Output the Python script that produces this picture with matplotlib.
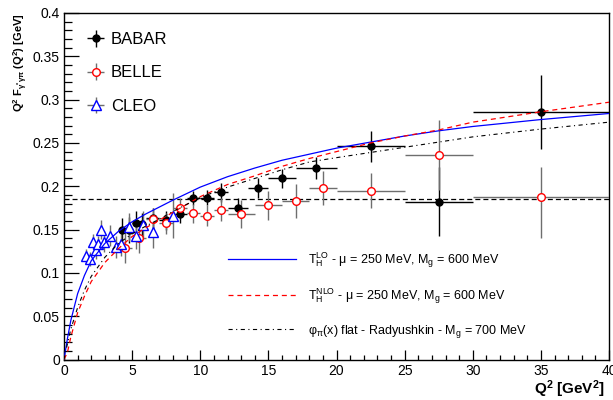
import matplotlib
matplotlib.use("Agg")
import matplotlib.pyplot as plt
from matplotlib.ticker import MultipleLocator, FixedLocator, FixedFormatter

plt.rcParams['font.family'] = ['Liberation Sans', 'DejaVu Sans']
plt.rcParams['mathtext.fontset'] = 'custom'
plt.rcParams['mathtext.rm'] = 'Liberation Sans'
plt.rcParams['mathtext.it'] = 'Liberation Sans:italic'
plt.rcParams['mathtext.bf'] = 'Liberation Sans:bold'
plt.rcParams['mathtext.default'] = 'regular'
plt.rcParams['lines.scale_dashes'] = False

# BABAR
babar_q2 = [4.25, 4.75, 5.25, 5.75, 6.5, 7.5, 8.5, 9.5, 10.5, 11.5, 12.75, 14.25, 16.0, 18.5, 22.5, 27.5, 35.0]
babar_xerr = [0.25, 0.25, 0.25, 0.25, 0.5, 0.5, 0.5, 0.5, 0.5, 0.5, 0.75, 0.75, 1.0, 1.5, 2.5, 2.5, 5.0]
babar_f = [0.150, 0.149, 0.158, 0.156, 0.163, 0.161, 0.168, 0.186, 0.187, 0.193, 0.175, 0.198, 0.209, 0.221, 0.246, 0.182, 0.286]
babar_err = [0.013, 0.015, 0.014, 0.013, 0.012, 0.011, 0.010, 0.008, 0.009, 0.011, 0.011, 0.012, 0.011, 0.013, 0.018, 0.040, 0.043]

# BELLE
belle_q2 = [4.5, 5.5, 6.5, 7.5, 8.5, 9.5, 10.5, 11.5, 13.0, 15.0, 17.0, 19.0, 22.5, 27.5, 35.0]
belle_xerr = [0.5, 0.5, 0.5, 0.5, 0.5, 0.5, 0.5, 0.5, 1.0, 1.0, 1.0, 1.0, 2.5, 2.5, 5.0]
belle_f = [0.129, 0.140, 0.162, 0.157, 0.175, 0.169, 0.166, 0.173, 0.168, 0.178, 0.183, 0.198, 0.195, 0.236, 0.188]
belle_err_lo = [0.018, 0.017, 0.013, 0.012, 0.011, 0.011, 0.012, 0.013, 0.016, 0.017, 0.020, 0.020, 0.020, 0.040, 0.048]
belle_err_hi = [0.018, 0.017, 0.013, 0.012, 0.011, 0.011, 0.012, 0.013, 0.016, 0.017, 0.020, 0.020, 0.020, 0.040, 0.034]

# CLEO
cleo_q2 = [1.65, 1.9, 2.15, 2.37, 2.52, 2.73, 2.97, 3.35, 3.78, 4.22, 4.79, 5.29, 5.8, 6.5, 8.0]
cleo_f = [0.119, 0.116, 0.136, 0.126, 0.133, 0.150, 0.136, 0.143, 0.130, 0.133, 0.153, 0.143, 0.155, 0.147, 0.166]
cleo_err = [0.008, 0.008, 0.009, 0.010, 0.010, 0.011, 0.012, 0.012, 0.013, 0.013, 0.016, 0.016, 0.016, 0.018, 0.026]
cleo_xerr = [0.0] * len(cleo_q2)

# model curves
curve_q2 = [0, 0.25, 0.5, 1, 1.5, 2, 3, 4, 5, 6, 7, 8, 10, 12, 14, 16, 18, 20, 22.5, 25, 27.5, 30, 35, 40]
th_lo = [0.0, 0.024, 0.045, 0.076, 0.097, 0.114, 0.134, 0.148, 0.159, 0.168, 0.176, 0.184, 0.199, 0.211,
         0.221, 0.230, 0.237, 0.244, 0.251, 0.258, 0.264, 0.269, 0.277, 0.284]
th_nlo = [0.0, 0.008, 0.026, 0.054, 0.073, 0.090, 0.112, 0.128, 0.142, 0.152, 0.161, 0.170, 0.188, 0.202,
          0.212, 0.223, 0.232, 0.240, 0.250, 0.258, 0.265, 0.274, 0.286, 0.297]
flat_rad = [0.0, 0.018, 0.035, 0.060, 0.080, 0.096, 0.118, 0.134, 0.145, 0.154, 0.162, 0.171, 0.187, 0.199,
            0.209, 0.219, 0.228, 0.233, 0.239, 0.245, 0.251, 0.257, 0.266, 0.274]
asym_level = 0.185

x_ticks = [0, 5, 10, 15, 20, 25, 30, 35, 40]
y_ticks = [0, 0.05, 0.1, 0.15, 0.2, 0.25, 0.3, 0.35, 0.4]
y_ticklabels = ['0', '0.05', '0.1', '0.15', '0.2', '0.25', '0.3', '0.35', '0.4']

fig = plt.figure(figsize=(6.13, 4.0), dpi=100)
ax = fig.add_axes([64 / 613, 1 - 359.5 / 400, 545 / 613, 346.5 / 400])

ax.axhline(asym_level, color='black', lw=0.9, ls=(0, (3.6, 2.2)), zorder=1)

h_babar = ax.errorbar(babar_q2, babar_f, yerr=babar_err, xerr=babar_xerr, fmt='o', ms=5,
                      color='black', ecolor='black', elinewidth=1.0, capsize=0, zorder=3)
h_belle = ax.errorbar(belle_q2, belle_f, yerr=[belle_err_lo, belle_err_hi], xerr=belle_xerr, fmt='o',
                      ms=5.5, mfc='white', mec='red', mew=1.0, ecolor='#6e6e6e', elinewidth=1.0,
                      capsize=0, zorder=3)
h_cleo = ax.errorbar(cleo_q2, cleo_f, yerr=cleo_err, xerr=cleo_xerr, fmt='^', ms=6.5,
                     mfc='white', mec='blue', mew=1.0, ecolor='#6e6e6e', elinewidth=1.0,
                     capsize=0, zorder=3)

l_lo, = ax.plot(curve_q2, th_lo, color='blue', lw=0.9, zorder=4)
l_nlo, = ax.plot(curve_q2, th_nlo, color='red', lw=0.9, ls=(0, (3.6, 2.8)), zorder=4)
l_flat, = ax.plot(curve_q2, flat_rad, color='black', lw=0.8, ls=(0, (3.0, 2.5, 0.8, 2.5)), zorder=4)

ax.set_xlim(0, 40)
ax.set_ylim(0, 0.4)
ax.xaxis.set_major_locator(FixedLocator(x_ticks))
ax.xaxis.set_minor_locator(MultipleLocator(1))
ax.yaxis.set_major_locator(FixedLocator(y_ticks))
ax.yaxis.set_major_formatter(FixedFormatter(y_ticklabels))
ax.yaxis.set_minor_locator(MultipleLocator(0.01))
ax.tick_params(which='both', direction='in', top=False, right=False, labelsize=10, width=0.9)
ax.tick_params(axis='x', which='major', length=7.5, pad=3)
ax.tick_params(axis='x', which='minor', length=3.8)
ax.tick_params(axis='y', which='major', length=11, pad=3)
ax.tick_params(axis='y', which='minor', length=5.5)
for s in ax.spines.values():
    s.set_linewidth(1.0)

ax.set_xlabel(r'Q$^{2}$ [GeV$^{2}$]', fontsize=11, fontweight='bold', ha='right')
ax.xaxis.set_label_coords(0.993, -0.055)
ax.set_ylabel(r'Q$^{2}$ F$_{\gamma^{*}\gamma\pi}$ (Q$^{2}$) [GeV]', fontsize=8, fontweight='bold',
              ha='right', family=['Liberation Sans Narrow', 'Liberation Sans'])
ax.yaxis.set_label_coords(-0.063, 0.998)

leg1 = ax.legend([h_babar, h_belle, h_cleo], ['BABAR', 'BELLE', 'CLEO'], loc='upper left',
                 bbox_to_anchor=(0.04, 0.945), frameon=False, fontsize=12, handlelength=1.2,
                 handletextpad=0.3, labelspacing=1.1, borderpad=0, borderaxespad=0)
ax.add_artist(leg1)

ax.legend([l_lo, l_nlo, l_flat],
          [r'T$_{\rm H}^{\rm LO}$ - μ = 250 MeV, M$_{\rm g}$ = 600 MeV',
           r'T$_{\rm H}^{\rm NLO}$ - μ = 250 MeV, M$_{\rm g}$ = 600 MeV',
           r'φ$_{π}$(x) flat - Radyushkin - M$_{\rm g}$ = 700 MeV'],
          loc='upper left', bbox_to_anchor=(0.301, 0.315), frameon=False, fontsize=9,
          handlelength=5.4, handletextpad=1.0, labelspacing=1.35, borderpad=0, borderaxespad=0)

fig.savefig('out.png', dpi=100)
